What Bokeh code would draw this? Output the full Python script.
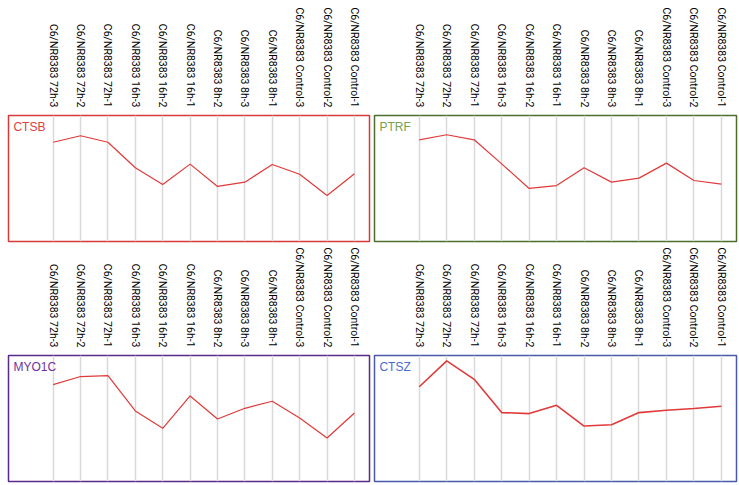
import math
from bokeh.plotting import figure
from bokeh.models import FixedTicker, Range1d, Label
from bokeh.layouts import gridplot
from bokeh.embed import file_html
from bokeh.resources import INLINE

samples = ["C6/NR8383 72h-3", "C6/NR8383 72h-2", "C6/NR8383 72h-1",
           "C6/NR8383 16h-3", "C6/NR8383 16h-2", "C6/NR8383 16h-1",
           "C6/NR8383 8h-2", "C6/NR8383 8h-3", "C6/NR8383 8h-1",
           "C6/NR8383 Control-3", "C6/NR8383 Control-2", "C6/NR8383 Control-1"]

ctsb = [78.8, 83.9, 78.8, 58.5, 45.2, 61.4, 43.7, 47.1, 61.1, 53.4, 36.5, 53.7]
ptrf = [80.7, 84.7, 80.7, 61.6, 42.1, 44.4, 58.5, 47.1, 50.3, 62.2, 48.4, 45.5]
myo1c = [76.9, 83.3, 84.1, 56.0, 42.2, 67.9, 49.6, 58.1, 63.7, 50.4, 34.5, 54.4]
ctsz = [75.2, 95.7, 81.1, 54.7, 53.9, 60.5, 44.0, 45.1, 54.7, 56.5, 57.9, 59.7]

LABEL_FONT = "Roboto"
TITLE_FONT = "Liberation Sans"


def panel(name, vals, title_color, border_color, width, height,
          b_left, b_right, b_top, b_bottom, line_w=1.2):
    p = figure(width=width, height=height, output_backend="svg",
               toolbar_location=None, x_axis_location="above",
               x_range=Range1d(-1.63, 11.55), y_range=Range1d(0, 100),
               min_border_left=b_left, min_border_right=b_right,
               min_border_top=b_top, min_border_bottom=b_bottom)
    p.yaxis.visible = False
    p.ygrid.visible = False
    xs = list(range(len(samples)))
    ax = p.xaxis[0]
    ax.ticker = FixedTicker(ticks=xs)
    ax.major_label_overrides = {i: s for i, s in enumerate(samples)}
    ax.major_label_orientation = -math.pi / 2
    ax.major_label_text_font = LABEL_FONT
    ax.major_label_text_font_size = "10.5px"
    ax.major_label_text_color = "#000000"
    ax.major_label_standoff = 2
    ax.axis_line_color = None
    ax.major_tick_line_color = None
    ax.minor_tick_line_color = None
    p.xgrid.grid_line_color = "#d9d9d9"
    p.xgrid.grid_line_width = 1.5
    p.outline_line_color = border_color
    p.outline_line_width = 1.5
    p.outline_line_alpha = 1.0
    p.background_fill_color = "white"
    p.border_fill_color = "white"
    p.line(xs, vals, line_color="#e03a3a", line_width=line_w)
    p.add_layout(Label(x=-1.45, y=96.5, text=name, text_color=title_color,
                       text_font=TITLE_FONT, text_font_size="12px",
                       text_baseline="top", text_align="left"))
    return p


p1 = panel("CTSB", ctsb, "#e0403f", "#d83a3a", 373, 243, 8, 4, 115, 2)
p2 = panel("PTRF", ptrf, "#77a24c", "#4d6d2d", 366, 243, 1, 3, 115, 2)
p3 = panel("MYO1C", myo1c, "#7030a0", "#5a2a8a", 373, 242, 8, 4, 112, 4)
p4 = panel("CTSZ", ctsz, "#4a6ad0", "#4a5aaa", 366, 242, 1, 3, 112, 4, line_w=1.6)

grid = gridplot([[p1, p2], [p3, p4]], toolbar_location=None)

open("out.html", "w").write(file_html(grid, INLINE))
